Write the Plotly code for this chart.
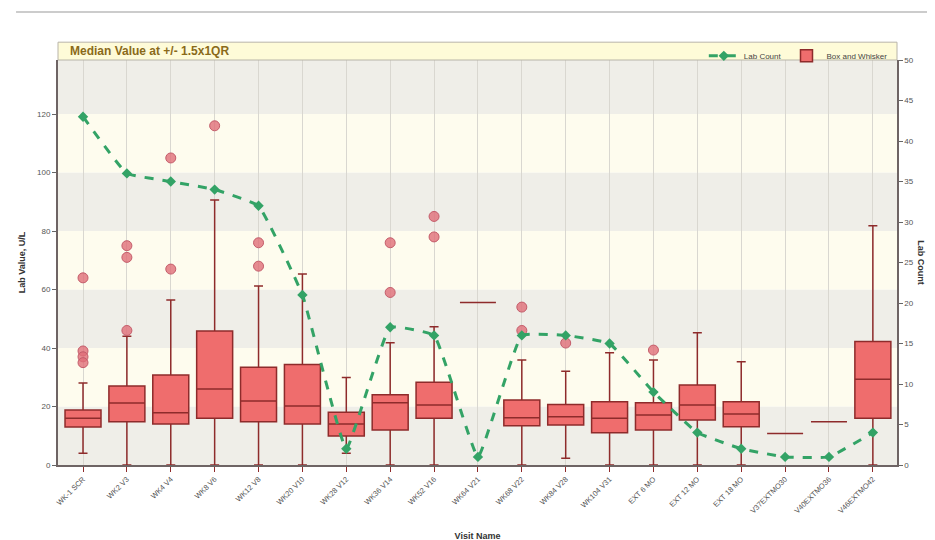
import plotly.graph_objects as go

categories = ["WK-1 SCR", "WK2 V3", "WK4 V4", "WK8 V6", "WK12 V8", "WK20 V10", "WK28 V12",
              "WK36 V14", "WK52 V16", "WK64 V21", "WK68 V22", "WK84 V28", "WK104 V31",
              "EXT 6 MO", "EXT 12 MO", "EXT 18 MO", "V37EXTMO30", "V40EXTMO36", "V46EXTMO42"]
q1 =         [13, 14.8, 14, 16, 14.8, 14, 9.9, 12, 16, 55.6, 13.4, 13.7, 11, 12, 15.4, 13.1, 10.8, 14.8, 16]
median =     [16, 21.2, 17.9, 26, 21.9, 20.2, 14, 21.3, 20.5, 55.6, 16.2, 16.5, 16, 17.1, 20.5, 17.4, 10.8, 14.8, 29.3]
q3 =         [18.8, 27, 30.8, 45.8, 33.4, 34.4, 18, 24, 28.3, 55.6, 22.2, 20.7, 21.6, 21.3, 27.4, 21.6, 10.8, 14.8, 42.2]
lower_fence = [4, 0, 0, 0, 0, 0, 4, 0, 0, 55.6, 0, 2.3, 0, 0, 0, 0, 10.8, 14.8, 0]
upper_fence = [28, 44, 56.4, 90.6, 61.2, 65.3, 29.9, 41.8, 47.3, 55.6, 35.9, 32.1, 38.4, 35.9, 45.2, 35.3, 10.8, 14.8, 81.8]
outlier_cat = [0, 0, 0, 0, 1, 1, 1, 2, 2, 3, 4, 4, 7, 7, 8, 8, 10, 10, 11, 13]
outlier_val = [64, 39, 37, 35, 75, 71, 46, 67, 105, 116, 76, 68, 76, 59, 78, 85, 54, 46, 41.7, 39.3]
lab_count = [43, 36, 35, 34, 32, 21, 2, 17, 16, 1, 16, 16, 15, 9, 4, 2, 1, 1, 4]

xs = list(range(len(categories)))
fig = go.Figure()

# background bands on left axis
band_colors = ["#efeee8", "#fefcee"]
edges = [0, 20, 40, 60, 80, 100, 120, 140]
for i in range(len(edges) - 1):
    fig.add_shape(type="rect", xref="paper", yref="y", x0=0, x1=1, y0=edges[i], y1=edges[i + 1],
                  fillcolor=band_colors[i % 2], line_width=0, layer="below")

fig.add_trace(go.Scatter(
    x=xs, y=lab_count, yaxis="y2", name="Lab Count", mode="lines+markers",
    line=dict(color="#33a366", width=3, dash="dash", shape="spline", smoothing=0.3),
    marker=dict(symbol="diamond", size=8, color="#33a366"),
))
fig.add_trace(go.Box(
    x=xs, q1=q1, median=median, q3=q3, lowerfence=lower_fence, upperfence=upper_fence,
    name="Box and Whisker", width=0.82, whiskerwidth=0.25, boxpoints=False,
    fillcolor="#ef6d6d", line=dict(color="#8e2b2b", width=1.5),
))
fig.add_trace(go.Scatter(
    x=outlier_cat, y=outlier_val, mode="markers", showlegend=False,
    marker=dict(symbol="circle", size=10, color="rgba(224,110,120,0.8)",
                line=dict(color="#c45c6a", width=1)),
))

# title band and top line
fig.add_shape(type="rect", xref="paper", yref="paper", x0=0, x1=1, y0=1.0, y1=1.044,
              fillcolor="#fefbd8", line=dict(color="#b8b4a8", width=1))
fig.add_shape(type="line", xref="paper", yref="paper", x0=-0.05, x1=1.06, y0=1.1185, y1=1.1185,
              line=dict(color="#cccccc", width=2))
fig.add_annotation(text="<b>Median Value at +/- 1.5x1QR</b>", xref="paper", yref="paper",
                   x=0.012, y=1.022, xanchor="left", yanchor="middle", showarrow=False,
                   font=dict(family="Liberation Sans", size=12, color="#8a6a1a"))
fig.add_annotation(text="<b>Lab Count</b>", xref="paper", yref="paper", x=1.029, y=0.5,
                   xanchor="center", yanchor="middle",
                   textangle=90, showarrow=False, font=dict(family="Liberation Sans", size=9, color="#333"))

fig.update_layout(
    width=935, height=540,
    margin=dict(l=50, r=46, t=52, b=83),
    paper_bgcolor="white", plot_bgcolor="rgba(0,0,0,0)",
    showlegend=True,
    legend=dict(orientation="h", x=0.995, y=1.046, xanchor="right", yanchor="top",
                bgcolor="rgba(0,0,0,0)", font=dict(family="Liberation Sans", size=8, color="#444"),
                itemwidth=30, traceorder="normal", tracegroupgap=0),
    xaxis=dict(range=[-0.57, 18.55], tickmode="array", tickvals=xs, ticktext=categories,
               tickangle=-45, tickfont=dict(family="Liberation Sans", size=7.5, color="#555"),
               showgrid=True, gridcolor="#d9d7d0", gridwidth=1, ticks="outside", ticklen=5,
               tickcolor="#8e2b2b", showline=True, linecolor="#6e6464", linewidth=2, mirror=False,
               automargin=False,
               title=dict(text="<b>Visit Name</b>", font=dict(family="Liberation Sans", size=9, color="#333"),
                          standoff=18), zeroline=False),
    yaxis=dict(range=[0, 138.5], tickvals=[0, 20, 40, 60, 80, 100, 120], showgrid=False,
               ticks="outside", ticklen=4, tickcolor="#666", automargin=False,
               tickfont=dict(family="Liberation Sans", size=8, color="#555"),
               showline=True, linecolor="#6e6464", linewidth=2, zeroline=False,
               title=dict(text="<b>Lab Value, U/L</b>", font=dict(family="Liberation Sans", size=9, color="#333"),
                          standoff=10)),
    yaxis2=dict(range=[0, 50], overlaying="y", side="right", tickvals=list(range(0, 51, 5)),
                showgrid=False, ticks="outside", ticklen=4, tickcolor="#666", automargin=False,
                tickfont=dict(family="Liberation Sans", size=8, color="#555"),
                showline=True, linecolor="#6e6464", linewidth=1.5, zeroline=False),
)

fig.write_html("out.html")
